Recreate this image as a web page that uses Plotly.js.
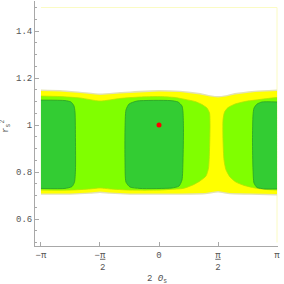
<!DOCTYPE html>
<html><head><meta charset="utf-8">
<script src="https://cdn.plot.ly/plotly-3.0.1.min.js"></script>
<style>html,body{margin:0;padding:0;background:#fff}#chart{width:284px;height:284px}</style>
</head><body><div id="chart"></div>
<script>
const PI = Math.PI;
// Tick values / labels
const xTickVals = [-PI, -PI/2, 0, PI/2, PI];
const xTickText = ['\u2212\u03c0', '\u2212<span style="text-decoration:underline">\u03c0</span><br>&nbsp;2', '0', '<span style="text-decoration:underline">\u03c0</span><br>2', '\u03c0'];

// Contour region boundaries (x = 2θs in rad, y = rs^2)
const yellowTopX = [-3.142, -2.636, -2.103, -1.571, -1.038, -0.506, 0, 0.559, 1.092, 1.358, 1.571, 1.784, 2.023, 2.556, 3.142];
const yellowTopY = [1.145, 1.143, 1.136, 1.128, 1.134, 1.140, 1.143, 1.140, 1.130, 1.121, 1.117, 1.121, 1.130, 1.140, 1.145];
const yellowBotX = [3.142, 2.423, 1.890, 1.571, 1.225, 0.559, 0, -0.772, -1.305, -1.571, -1.837, -2.369, -3.142];
const yellowBotY = [0.706, 0.709, 0.711, 0.719, 0.711, 0.709, 0.709, 0.709, 0.713, 0.717, 0.713, 0.709, 0.709];

const lightLeftX = [-3.142, -2.636, -2.103, -1.571, -1.038, -0.506, 0, 0.426, 0.692, 0.958, 1.145, 1.278, 1.345, 1.358, 1.345, 1.318, 1.251, 1.092, 0.905, 0.639, 0.293, 0, -0.772, -1.305, -1.571, -1.837, -2.369, -3.142];
const lightLeftY = [1.123, 1.121, 1.115, 1.102, 1.113, 1.119, 1.121, 1.117, 1.109, 1.100, 1.087, 1.072, 1.051, 1.000, 0.894, 0.817, 0.783, 0.762, 0.745, 0.730, 0.726, 0.723, 0.723, 0.728, 0.732, 0.728, 0.723, 0.723];
const lightRightX = [3.142, 2.902, 2.556, 2.290, 2.023, 1.837, 1.744, 1.704, 1.704, 1.731, 1.784, 1.890, 2.050, 2.263, 2.556, 2.822, 3.142];
const lightRightY = [1.117, 1.113, 1.106, 1.100, 1.089, 1.074, 1.055, 1.021, 0.936, 0.851, 0.809, 0.779, 0.757, 0.743, 0.732, 0.726, 0.723];

const darkLeftX = [-3.142, -2.503, -2.343, -2.263, -2.236, -2.223, -2.223, -2.250, -2.316, -2.503, -3.142];
const darkLeftY = [1.106, 1.104, 1.098, 1.081, 1.055, 0.936, 0.809, 0.757, 0.738, 0.730, 0.730];
const darkCenterX = [-0.586, 0.293, 0.506, 0.612, 0.639, 0.652, 0.639, 0.612, 0.532, 0.346, -0.506, -0.772, -0.879, -0.905, -0.905, -0.879, -0.799, -0.586];
const darkCenterY = [1.102, 1.104, 1.098, 1.081, 1.055, 0.979, 0.851, 0.766, 0.740, 0.732, 0.730, 0.736, 0.757, 0.851, 0.979, 1.064, 1.089, 1.102];
const darkRightX = [3.142, 2.742, 2.609, 2.529, 2.503, 2.489, 2.503, 2.529, 2.609, 2.822, 3.142];
const darkRightY = [1.098, 1.098, 1.089, 1.072, 1.043, 0.936, 0.809, 0.753, 0.734, 0.728, 0.728];

const domainEdgeX = [-3.142, 3.142, 3.142];
const domainEdgeY = [1.5, 1.5, 0.5];
const pointX = [0];
const pointY = [1];

const YELLOW = '#ffff00', LIGHT = '#80ff00', DARK = '#33cc33', PALE = '#e2e2b4';
const sm = {shape: 'spline', smoothing: 0.6};

const traces = [
  {x: domainEdgeX, y: domainEdgeY, mode: 'lines', line: {color: '#fbfbc4', width: 1}},
  {x: yellowTopX, y: yellowTopY, mode: 'lines', line: Object.assign({color: PALE, width: 2.8}, sm)},
  {x: yellowBotX, y: yellowBotY, mode: 'lines', line: Object.assign({color: PALE, width: 2.8}, sm)},
  {x: yellowTopX.concat(yellowBotX), y: yellowTopY.concat(yellowBotY), mode: 'lines', fill: 'toself', fillcolor: YELLOW, line: {width: 0}},
  {x: lightLeftX, y: lightLeftY, mode: 'lines', fill: 'toself', fillcolor: LIGHT, line: Object.assign({color: '#b4e400', width: 0.8}, sm)},
  {x: lightRightX, y: lightRightY, mode: 'lines', fill: 'toself', fillcolor: LIGHT, line: Object.assign({color: '#b4e400', width: 0.8}, sm)},
  {x: darkLeftX, y: darkLeftY, mode: 'lines', fill: 'toself', fillcolor: DARK, line: Object.assign({color: '#2a9e2a', width: 0.8}, sm)},
  {x: darkCenterX, y: darkCenterY, mode: 'lines', fill: 'toself', fillcolor: DARK, line: Object.assign({color: '#2a9e2a', width: 0.8}, sm)},
  {x: darkRightX, y: darkRightY, mode: 'lines', fill: 'toself', fillcolor: DARK, line: Object.assign({color: '#2a9e2a', width: 0.8}, sm)},
  {x: pointX, y: pointY, mode: 'markers', marker: {color: '#ff0000', size: 5}}
];

const AX = '#a8a8a8';
const layout = {
  width: 284, height: 284,
  margin: {l: 35, r: 6, t: 1, b: 38},
  paper_bgcolor: '#ffffff', plot_bgcolor: '#ffffff',
  showlegend: false,
  xaxis: {
    range: [-3.301, 3.168], showgrid: false, zeroline: false,
    showline: true, linecolor: AX, linewidth: 1,
    ticks: 'inside', ticklen: 4, tickcolor: AX,
    tickmode: 'array', tickvals: xTickVals, ticktext: xTickText,
    tickfont: {family: 'Liberation Mono', size: 9, color: '#555'}
  },
  yaxis: {
    range: [0.4851, 1.5277], showgrid: false, zeroline: false,
    showline: true, linecolor: AX, linewidth: 1,
    ticks: 'inside', ticklen: 4, tickcolor: AX,
    tick0: 0, dtick: 0.2,
    minor: {tick0: 0, dtick: 0.05, ticks: 'inside', ticklen: 2, tickcolor: AX},
    tickfont: {family: 'Liberation Mono', size: 9, color: '#555'}
  },
  annotations: [
    {text: '2 <i>\u0398</i><sub>s</sub>', xref: 'paper', yref: 'paper', x: 0.5, y: -0.135, xanchor: 'center', yanchor: 'middle', showarrow: false,
     font: {family: 'Liberation Mono', size: 9, color: '#555'}},
    {text: 'r<sub>s</sub><sup>2</sup>', xref: 'paper', yref: 'paper', x: -0.12, y: 0.49, xanchor: 'center', yanchor: 'middle', showarrow: false, textangle: -90,
     font: {family: 'Liberation Mono', size: 9, color: '#555'}}
  ]
};

Plotly.newPlot('chart', traces, layout, {staticPlot: true, displayModeBar: false});
</script>
</body></html>
